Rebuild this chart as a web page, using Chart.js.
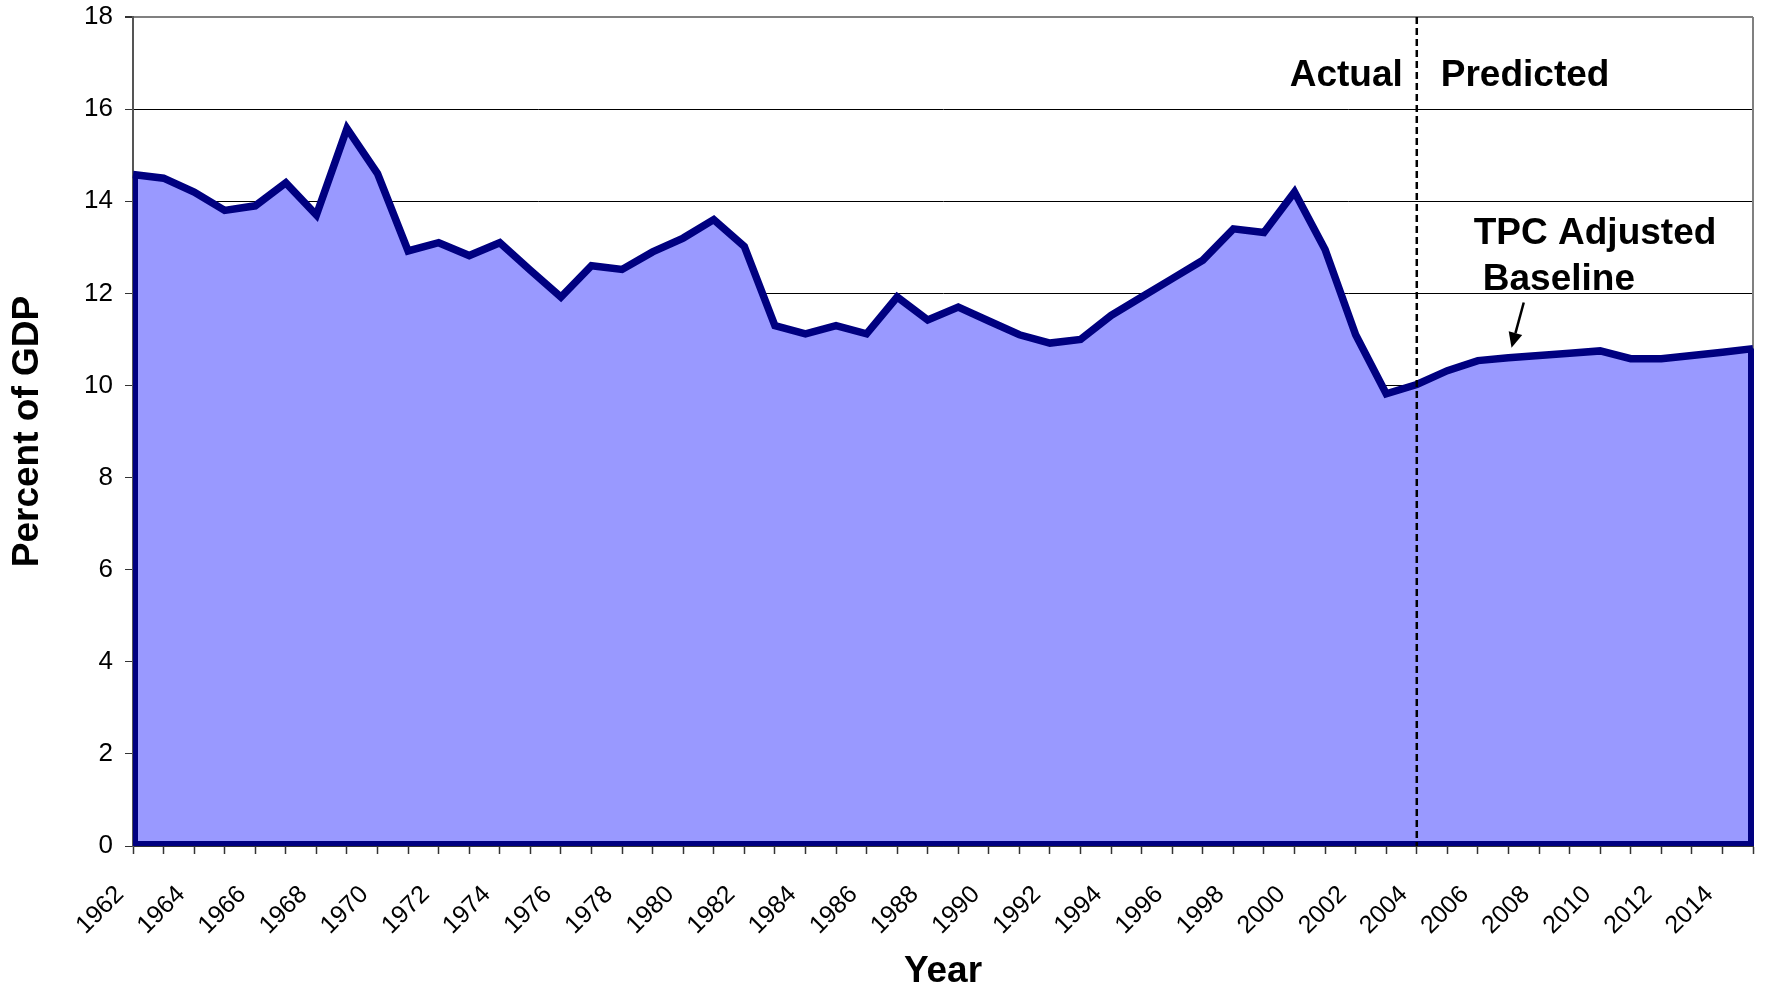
<!DOCTYPE html>
<html>
<head>
<meta charset="utf-8">
<title>Percent of GDP</title>
<script src="https://cdn.jsdelivr.net/npm/chart.js@4.4.1/dist/chart.umd.min.js"></script>
<style>
  html, body { margin: 0; padding: 0; background: #fff; }
  #wrap { width: 1768px; height: 990px; }
</style>
</head>
<body>
<div id="wrap"><canvas id="chart" width="1768" height="990"></canvas></div>
<script>
// Revenue as share of GDP, actual through 2004 and TPC projection after
const years = [
    '1962', '1963', '1964', '1965', '1966', '1967', '1968', '1969', '1970', '1971',
    '1972', '1973', '1974', '1975', '1976', '1977', '1978', '1979', '1980', '1981',
    '1982', '1983', '1984', '1985', '1986', '1987', '1988', '1989', '1990', '1991',
    '1992', '1993', '1994', '1995', '1996', '1997', '1998', '1999', '2000', '2001',
    '2002', '2003', '2004', '2005', '2006', '2007', '2008', '2009', '2010', '2011',
    '2012', '2013', '2014', '2015'
];
const percentOfGdp = [
    14.58, 14.5, 14.2, 13.8, 13.9, 14.4, 13.7, 15.58, 14.6, 12.92,
    13.1, 12.82, 13.1, 12.5, 11.92, 12.6, 12.52, 12.9, 13.2, 13.6,
    13.02, 11.3, 11.12, 11.3, 11.12, 11.92, 11.42, 11.7, 11.4, 11.1,
    10.92, 11.0, 11.52, 11.92, 12.32, 12.72, 13.4, 13.32, 14.2, 12.95,
    11.1, 9.82, 10.02, 10.32, 10.54, 10.6, 10.65, 10.7, 10.75, 10.58,
    10.58, 10.65, 10.72, 10.8
];
const yTicks = [0, 2, 4, 6, 8, 10, 12, 14, 16, 18];
const splitYear = '2004';

const FONT = '"Liberation Sans", Arial, Helvetica, sans-serif';
Chart.defaults.font.family = FONT;
Chart.defaults.color = '#000';

// Dashed split line, area outline and the text notes
const overlay = {
    id: 'overlay',
    beforeDatasetsDraw(chart) {
        const { ctx, chartArea: a } = chart;
        ctx.save();
        ctx.strokeStyle = '#808080';
        ctx.lineWidth = 2;
        ctx.beginPath();
        ctx.moveTo(a.right, a.top);
        ctx.lineTo(a.right, a.bottom);
        ctx.stroke();
        ctx.restore();
    },
    afterDatasetsDraw(chart) {
        const { ctx, chartArea: a, scales: { x, y } } = chart;
        const pts = chart.getDatasetMeta(0).data;
        const first = pts[0];
        const last = pts[pts.length - 1];
        const base = y.getPixelForValue(0);

        // close the area like the spreadsheet does
        ctx.save();
        ctx.beginPath();
        ctx.rect(a.left, a.top, a.width + 1, a.height);
        ctx.clip();
        ctx.strokeStyle = '#000080';
        ctx.lineWidth = 10;
        ctx.beginPath();
        ctx.moveTo(last.x, last.y);
        ctx.lineTo(last.x, base);
        ctx.lineTo(first.x, base);
        ctx.lineTo(first.x, first.y);
        ctx.stroke();
        ctx.restore();

        const dx = x.getPixelForValue(years.indexOf(splitYear));
        ctx.save();
        ctx.strokeStyle = '#000';
        ctx.lineWidth = 2.5;
        ctx.setLineDash([7, 4]);
        ctx.beginPath();
        ctx.moveTo(dx, a.top);
        ctx.lineTo(dx, a.bottom);
        ctx.stroke();
        ctx.restore();

        ctx.save();
        ctx.fillStyle = '#000';
        ctx.font = 'bold 37px ' + FONT;
        ctx.textBaseline = 'alphabetic';
        ctx.textAlign = 'right';
        ctx.fillText('Actual', dx - 14, y.getPixelForValue(16.5));
        ctx.textAlign = 'left';
        ctx.fillText('Predicted', dx + 24, y.getPixelForValue(16.5));
        ctx.fillText('TPC Adjusted', dx + 57, y.getPixelForValue(13.08));
        ctx.fillText('Baseline', dx + 66, y.getPixelForValue(12.08));

        // arrow to the projected line
        const x0 = x.getPixelForValue(45.5), y0 = y.getPixelForValue(11.8);
        const x1 = x.getPixelForValue(45.1), y1 = y.getPixelForValue(10.82);
        const ang = Math.atan2(y1 - y0, x1 - x0);
        const head = 15, half = 7;
        ctx.strokeStyle = '#000';
        ctx.lineWidth = 2.5;
        ctx.beginPath();
        ctx.moveTo(x0, y0);
        ctx.lineTo(x1 - Math.cos(ang) * head, y1 - Math.sin(ang) * head);
        ctx.stroke();
        ctx.beginPath();
        ctx.moveTo(x1, y1);
        ctx.lineTo(x1 - Math.cos(ang) * head - Math.sin(ang) * half, y1 - Math.sin(ang) * head + Math.cos(ang) * half);
        ctx.lineTo(x1 - Math.cos(ang) * head + Math.sin(ang) * half, y1 - Math.sin(ang) * head - Math.cos(ang) * half);
        ctx.closePath();
        ctx.fill();
        ctx.restore();
    }
};

new Chart(document.getElementById('chart'), {
    type: 'line',
    data: {
        labels: years,
        datasets: [{
            data: percentOfGdp,
            borderColor: '#000080',
            backgroundColor: '#9999ff',
            borderWidth: 7.5,
            fill: 'origin',
            tension: 0,
            pointRadius: 0,
            pointHoverRadius: 0
        }]
    },
    options: {
        responsive: false,
        animation: false,
        events: [],
        layout: { padding: { top: 17, right: 15, left: 0, bottom: 0 } },
        plugins: {
            legend: { display: false },
            tooltip: { enabled: false }
        },
        scales: {
            x: {
                offset: false,
                grid: { drawOnChartArea: false, drawTicks: true, tickLength: 8, tickColor: '#333', tickWidth: 1.5 },
                border: { color: '#333' },
                ticks: {
                    autoSkip: false,
                    minRotation: 45,
                    maxRotation: 45,
                    padding: 26,
                    labelOffset: -13,
                    font: { size: 25 },
                    callback: (v, i) => (i % 2 === 0 ? years[i] : '')
                },
                title: {
                    display: true,
                    text: 'Year',
                    font: { size: 37, weight: 'bold' },
                    padding: { top: 0, bottom: -4 }
                },
                afterFit: s => {
                    s.height = 144;
                    s.paddingLeft = 0;
                    s.paddingRight = 0;
                }
            },
            y: {
                min: 0,
                max: 18,
                afterBuildTicks: s => { s.ticks = yTicks.map(v => ({ value: v })); },
                grid: {
                    color: c => (c.tick && c.tick.value === 18 ? '#808080' : '#000'),
                    lineWidth: c => (c.tick && c.tick.value === 18 ? 2 : 1),
                    tickLength: 8,
                    tickColor: '#333'
                },
                border: { color: '#555', width: 2 },
                ticks: { padding: 12, font: { size: 26 } },
                title: {
                    display: true,
                    text: 'Percent of GDP',
                    font: { size: 37, weight: 'bold' },
                    padding: { top: 6, bottom: 0 }
                },
                afterFit: s => {
                    s.width = 133;
                    s.paddingTop = 0;
                    s.paddingBottom = 0;
                }
            }
        }
    },
    plugins: [overlay]
});
</script>
</body>
</html>
